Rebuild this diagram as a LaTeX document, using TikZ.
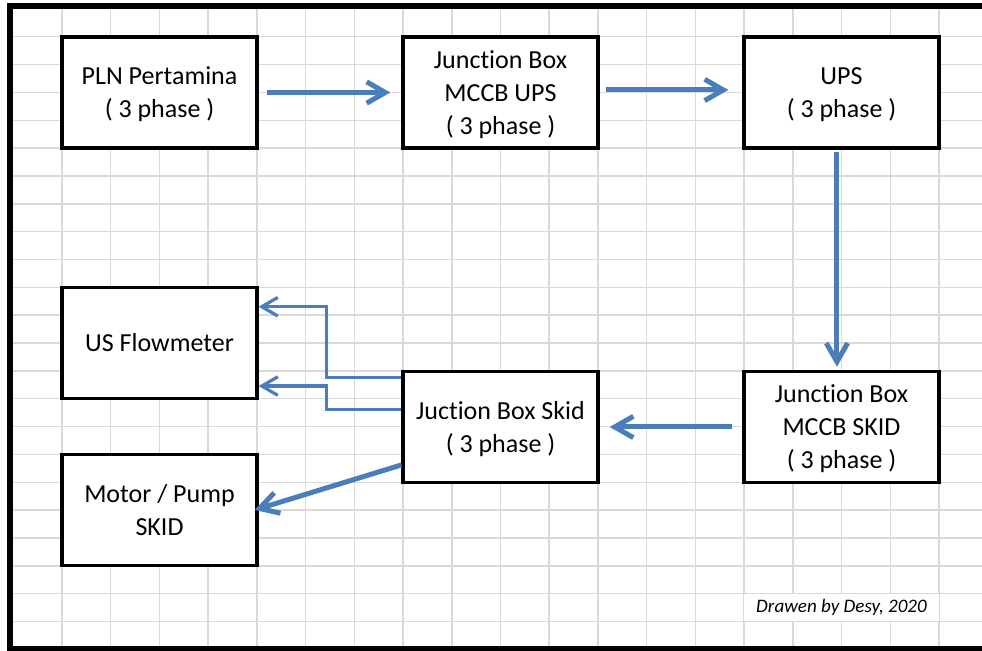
\documentclass[tikz,border=0pt]{standalone}
\usepackage{fontspec}
\setmainfont{Carlito}[Ligatures=NoCommon]
\definecolor{linkblue}{RGB}{74,126,187}
\definecolor{cellgrey}{RGB}{217,217,217}
\usetikzlibrary{positioning, arrows.meta}

\begin{document}
\begin{tikzpicture}[x=0.75pt, y=-0.75pt, node distance=107pt]
    \tikzstyle{block} = [rectangle, draw, fill=white, line width=2.5pt,
        minimum width=146.25pt, minimum height=83.25pt, align=center,
        text depth=0pt, font=\fontsize{19.5}{24.75}\selectfont]
    \tikzstyle{arrow} = [line width=3.75pt, color=linkblue,
        -{Straight Barb[length=14pt, width=16pt]}]
    \tikzstyle{thinarrow} = [line width=2.4pt, color=linkblue,
        -{Straight Barb[length=12pt, width=14pt]}]
    \tikzstyle{cell} = [cellgrey, line width=1.1pt]

    % sheet and cell grid
    \useasboundingbox (0,0) rectangle (982,650);
    \fill[white] (0,0) rectangle (982,650);
    \foreach \k in {1,...,19}
        \draw[cell] ({13.3+48.72*\k},6) -- ({13.3+48.72*\k},650);
    \foreach \k in {1,...,22}
        \draw[cell] (10,{8.85+27.85*\k}) -- (982,{8.85+27.85*\k});
    \draw[line width=4.5pt] (982,6) -- (10,6) -- (10,650);
    \draw[line width=4.5pt] (7,648.5) -- (982,648.5);

    \node [block] (pln) at (159.5,92.5) {PLN Pertamina\\( 3 phase )};
    \node [block, right=of pln] (jbups) {Junction Box\\MCCB UPS\\( 3 phase )};
    \node [block, right=of jbups] (ups) {UPS\\( 3 phase )};
    \node [block, below=165.1pt of ups] (jbmccb) {Junction Box\\MCCB SKID\\( 3 phase )};
    \node [block, left=of jbmccb] (jbskid) {Juction Box Skid\\( 3 phase )};
    \node [block, left=of jbskid, yshift=63.2pt] (flow) {US Flowmeter};
    \node [block, below=39.7pt of flow] (motor) {Motor / Pump\\SKID};

    \node [fill=white, inner sep=0pt, minimum width=146pt, minimum height=20pt,
        font=\fontsize{14.3}{16}\selectfont\itshape] (credit) at (841.5,607.5) {Drawen by Desy, 2020};

    \draw [arrow] ([xshift=6pt]pln.east) -- ([xshift=-8.25pt]jbups.west);
    \draw [arrow] ([xshift=4.5pt,yshift=1.9pt]jbups.east) -- ([xshift=-10.5pt,yshift=1.9pt]ups.west);
    \draw [arrow] ([xshift=-3.4pt,yshift=-1.5pt]ups.south) -- ([xshift=-3.4pt,yshift=2.3pt]jbmccb.north);
    \draw [arrow] ([xshift=-7.5pt]jbmccb.west) -- ([xshift=7.5pt]jbskid.west -| jbskid.east);
    \draw [thinarrow] ([yshift=37pt]jbskid.west) -- ++(-56pt,0) |- ([yshift=27pt]flow.east);
    \draw [thinarrow] ([yshift=13.3pt]jbskid.west) -- ++(-56pt,0) |- ([yshift=-32.5pt]flow.east);
    \draw [arrow] ([yshift=-28.5pt]jbskid.west) -- ([xshift=-3pt]motor.east);
\end{tikzpicture}
\end{document}
